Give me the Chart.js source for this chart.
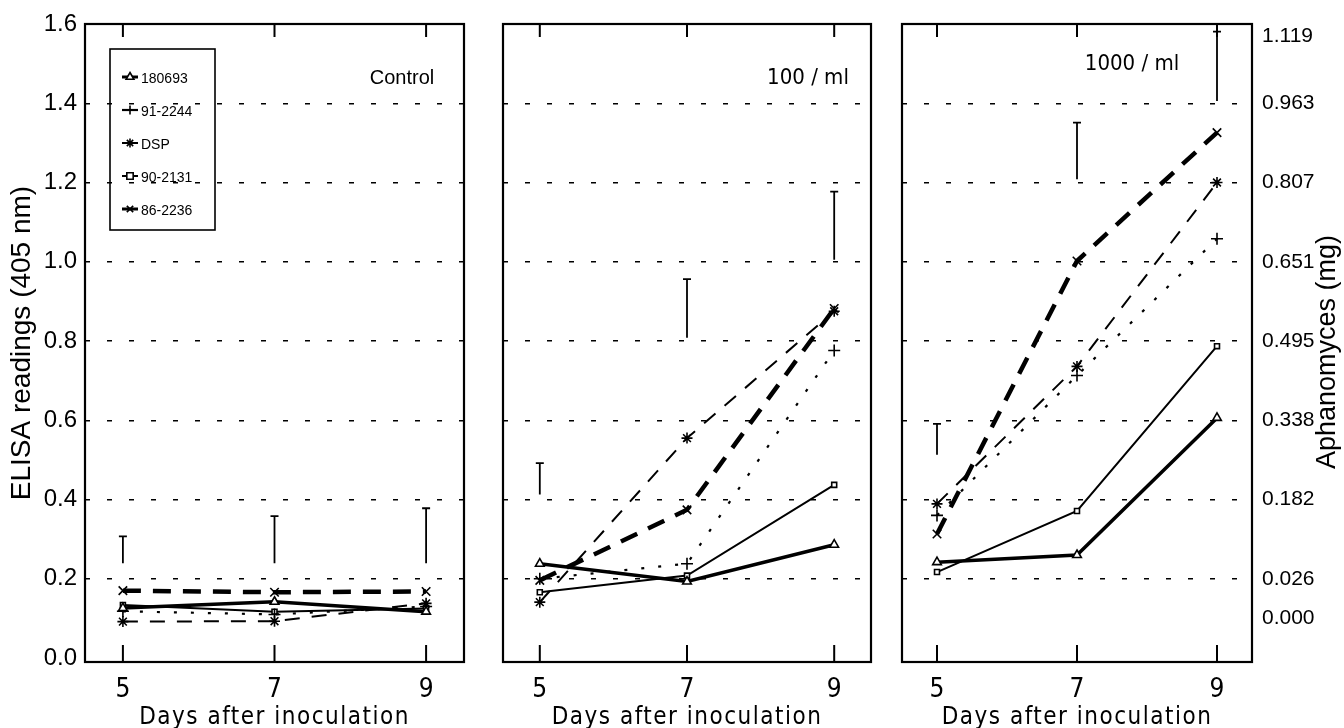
<!DOCTYPE html>
<html>
<head>
<meta charset="utf-8">
<script src="https://cdn.jsdelivr.net/npm/chart.js@4.4.0/dist/chart.umd.min.js"></script>
<style>
  html, body { margin: 0; padding: 0; background: #fff; }
  #wrap { position: relative; width: 1344px; height: 728px; overflow: hidden; }
  .pane { position: absolute; top: 0; height: 728px; }
</style>
</head>
<body>
<div id="wrap">
  <div class="pane" style="left:0;width:480px"><canvas id="c1" width="480" height="728"></canvas></div>
  <div class="pane" style="left:488px;width:392px"><canvas id="c2" width="392" height="728"></canvas></div>
  <div class="pane" style="left:888px;width:456px"><canvas id="c3" width="456" height="728"></canvas></div>
</div>
<script>
// ---- data ----
const days = [5, 7, 9];
const strains = ["180693", "91-2244", "DSP", "90-2131", "86-2236"];

// Control
const ctrl180693 = [0.126, 0.142, 0.117];
const ctrl912244 = [0.118, 0.110, 0.130];
const ctrlDSP    = [0.092, 0.093, 0.138];
const ctrl902131 = [0.134, 0.117, 0.125];
const ctrl862236 = [0.170, 0.166, 0.168];
const ctrlBarLow  = [0.239, 0.239, 0.239];
const ctrlBarHigh = [0.307, 0.358, 0.378];

// 100 / ml
const z100_180693 = [0.238, 0.193, 0.286];
const z100_912244 = [0.200, 0.238, 0.776];
const z100_DSP    = [0.141, 0.555, 0.875];
const z100_902131 = [0.166, 0.208, 0.437];
const z100_862236 = [0.196, 0.374, 0.882];
const z100BarLow  = [0.413, 0.808, 1.005];
const z100BarHigh = [0.492, 0.956, 1.177];

// 1000 / ml
const z1000_180693 = [0.242, 0.260, 0.606];
const z1000_912244 = [0.360, 0.713, 1.058];
const z1000_DSP    = [0.389, 0.736, 1.200];
const z1000_902131 = [0.217, 0.371, 0.787];
const z1000_862236 = [0.313, 1.002, 1.326];
const z1000BarLow  = [0.513, 1.208, 1.406];
const z1000BarHigh = [0.591, 1.351, 1.581];

const yTicks = [0, 0.2, 0.4, 0.6, 0.8, 1.0, 1.2, 1.4, 1.6];
const mgLabels = ["0.000", "0.026", "0.182", "0.338", "0.495", "0.651", "0.807", "0.963", "1.119"];
const mgAt     = [0.1, 0.2, 0.4, 0.6, 0.8, 1.0, 1.2, 1.4, 1.57];

// ---- styles ----
const SANS = "'Liberation Sans', Arial, Helvetica, sans-serif";
const NARROW = "'Liberation Sans Narrow', 'DejaVu Sans Condensed', 'Liberation Sans', sans-serif";
Chart.defaults.color = "#000";
Chart.defaults.font.family = SANS;

const lineStyle = {
  "180693":  { w: 3.5, dash: [],       point: "triangle", r: 5,   fill: "#fff" },
  "91-2244": { w: 2.2, dash: [3, 14],  point: "cross",    r: 6,   fill: "#000" },
  "DSP":     { w: 2,   dash: [15, 12], point: "star",     r: 5.5, fill: "#000" },
  "90-2131": { w: 2,   dash: [],       point: "rect",     r: 3.5, fill: "#fff" },
  "86-2236": { w: 4.5, dash: [18, 12], point: "crossRot", r: 6,   fill: "#000" }
};

function makeSets(series) {
  return strains.map((name, i) => {
    const st = lineStyle[name];
    return {
      label: name,
      data: days.map((d, k) => ({ x: d, y: series[i][k] })),
      borderColor: "#000",
      borderWidth: st.w,
      borderDash: st.dash,
      pointStyle: st.point,
      pointRadius: st.r,
      pointBorderWidth: 1.6,
      pointBorderColor: "#000",
      pointBackgroundColor: st.fill,
      tension: 0
    };
  });
}

// frame, inner ticks, LSD bars, panel label, legend, axis titles
const decor = {
  id: "decor",
  afterDraw(chart, args, o) {
    const { ctx, chartArea: a, scales } = chart;
    const xs = scales.x, ys = scales.y;
    ctx.save();
    ctx.strokeStyle = "#000";
    ctx.fillStyle = "#000";
    ctx.setLineDash([]);

    ctx.lineWidth = 2.2;
    ctx.strokeRect(a.left, a.top, a.right - a.left, a.bottom - a.top);

    ctx.lineWidth = 2;
    days.forEach(d => {
      const px = xs.getPixelForValue(d);
      ctx.beginPath();
      ctx.moveTo(px, a.bottom); ctx.lineTo(px, a.bottom - 17);
      ctx.moveTo(px, a.top);    ctx.lineTo(px, a.top + 13);
      ctx.stroke();
    });

    // LSD bars
    ctx.lineWidth = 1.8;
    days.forEach((d, k) => {
      const px = xs.getPixelForValue(d);
      const y1 = ys.getPixelForValue(o.barLow[k]);
      const y2 = ys.getPixelForValue(o.barHigh[k]);
      ctx.beginPath();
      ctx.moveTo(px, y1); ctx.lineTo(px, y2);
      ctx.moveTo(px - 4, y2); ctx.lineTo(px + 4, y2);
      ctx.stroke();
    });

    // panel label
    ctx.font = o.labelFont;
    ctx.textAlign = "center";
    ctx.textBaseline = "middle";
    ctx.fillText(o.label, o.labelX, o.labelY);

    // x title (spaced lettering)
    ctx.save();
    ctx.font = "24px " + NARROW;
    ctx.letterSpacing = "1.5px";
    ctx.textBaseline = "alphabetic";
    ctx.fillText("Days after inoculation", (a.left + a.right) / 2, 724);
    ctx.restore();

    if (o.legend) {
      const L = o.legend;
      ctx.lineWidth = 1.6;
      ctx.strokeRect(L.x, L.y, L.w, L.h);
      ctx.font = "14px " + SANS;
      ctx.textAlign = "left";
      chart.data.datasets.forEach((ds, i) => {
        const cy = L.y + 28 + i * 33;
        const cx = L.x + 20;
        ctx.lineWidth = Math.min(ds.borderWidth, 3);
        ctx.beginPath();
        ctx.moveTo(cx - 8, cy); ctx.lineTo(cx + 8, cy);
        ctx.stroke();
        ctx.fillStyle = ds.pointBackgroundColor;
        ctx.lineWidth = 1.6;
        Chart.helpers.drawPoint(ctx, { pointStyle: ds.pointStyle, radius: 4.5, rotation: 0, borderWidth: 1.6 }, cx, cy);
        ctx.fillStyle = "#000";
        ctx.fillText(ds.label, cx + 11, cy + 2);
      });
    }

    if (o.rightTitle) {
      ctx.translate(o.rightTitle.x, o.rightTitle.y);
      ctx.rotate(-Math.PI / 2);
      ctx.font = o.rightTitle.font;
      ctx.textAlign = "center";
      ctx.fillText(o.rightTitle.text, 0, 0);
    }
    ctx.restore();
  }
};

function xAxis() {
  return {
    type: "linear",
    min: 4.5, max: 9.5,
    afterBuildTicks: s => { s.ticks = days.map(v => ({ value: v })); },
    afterFit: s => { s.height = 66; },
    grid: { display: false },
    border: { display: false },
    ticks: { font: { family: NARROW, size: 26 }, padding: 5, autoSkip: false, maxRotation: 0 }
  };
}

function yAxis(showLabels) {
  return {
    type: "linear",
    min: -0.01, max: 1.6,
    afterBuildTicks: s => { s.ticks = yTicks.map(v => ({ value: v })); },
    afterFit: s => { s.width = showLabels ? 85 : 0; },
    grid: {
      color: c => (c.tick && (c.tick.value === 0 || c.tick.value === 1.6)) ? "rgba(0,0,0,0)" : "#000",
      lineWidth: 1.5,
      drawTicks: false
    },
    border: { display: false, dash: [5, 17] },
    ticks: {
      display: showLabels,
      font: { size: 24 },
      padding: 8,
      autoSkip: false,
      callback: v => v.toFixed(1)
    },
    title: {
      display: showLabels,
      text: "ELISA readings (405 nm)",
      font: { size: 28 },
      padding: { top: 5, bottom: 0 }
    }
  };
}

function build(id, series, pad, extraScales, decorOpts) {
  const scales = Object.assign({ x: xAxis(), y: yAxis(pad.labels) }, extraScales || {});
  return new Chart(document.getElementById(id), {
    type: "line",
    data: { datasets: makeSets(series) },
    options: {
      responsive: false,
      animation: false,
      layout: { padding: { left: pad.left, right: pad.right, top: 24, bottom: 0 } },
      plugins: { legend: { display: false }, tooltip: { enabled: false }, decor: decorOpts },
      scales
    },
    plugins: [decor]
  });
}

build("c1",
  [ctrl180693, ctrl912244, ctrlDSP, ctrl902131, ctrl862236],
  { left: 0, right: 16, labels: true }, null,
  { barLow: ctrlBarLow, barHigh: ctrlBarHigh,
    label: "Control", labelX: 402, labelY: 78, labelFont: "20px " + SANS,
    legend: { x: 110, y: 49, w: 105, h: 181 } });

build("c2",
  [z100_180693, z100_912244, z100_DSP, z100_902131, z100_862236],
  { left: 15, right: 9, labels: false }, null,
  { barLow: z100BarLow, barHigh: z100BarHigh,
    label: "100 / ml", labelX: 320, labelY: 78, labelFont: "22px " + NARROW });

build("c3",
  [z1000_180693, z1000_912244, z1000_DSP, z1000_902131, z1000_862236],
  { left: 14, right: 0, labels: false },
  { y2: {
      type: "linear", position: "right",
      min: -0.01, max: 1.6,
      afterBuildTicks: s => { s.ticks = mgAt.map(v => ({ value: v })); },
      afterFit: s => { s.width = 92; },
      grid: { display: false, drawTicks: false },
      border: { display: false },
      ticks: { font: { size: 21 }, padding: 10, autoSkip: false, callback: (v, i) => mgLabels[i] }
  } },
  { barLow: z1000BarLow, barHigh: z1000BarHigh,
    label: "1000 / ml", labelX: 244, labelY: 64, labelFont: "22px " + NARROW,
    rightTitle: { text: "Aphanomyces (mg)", x: 440, y: 352, font: "27px " + SANS } });
</script>
</body>
</html>
